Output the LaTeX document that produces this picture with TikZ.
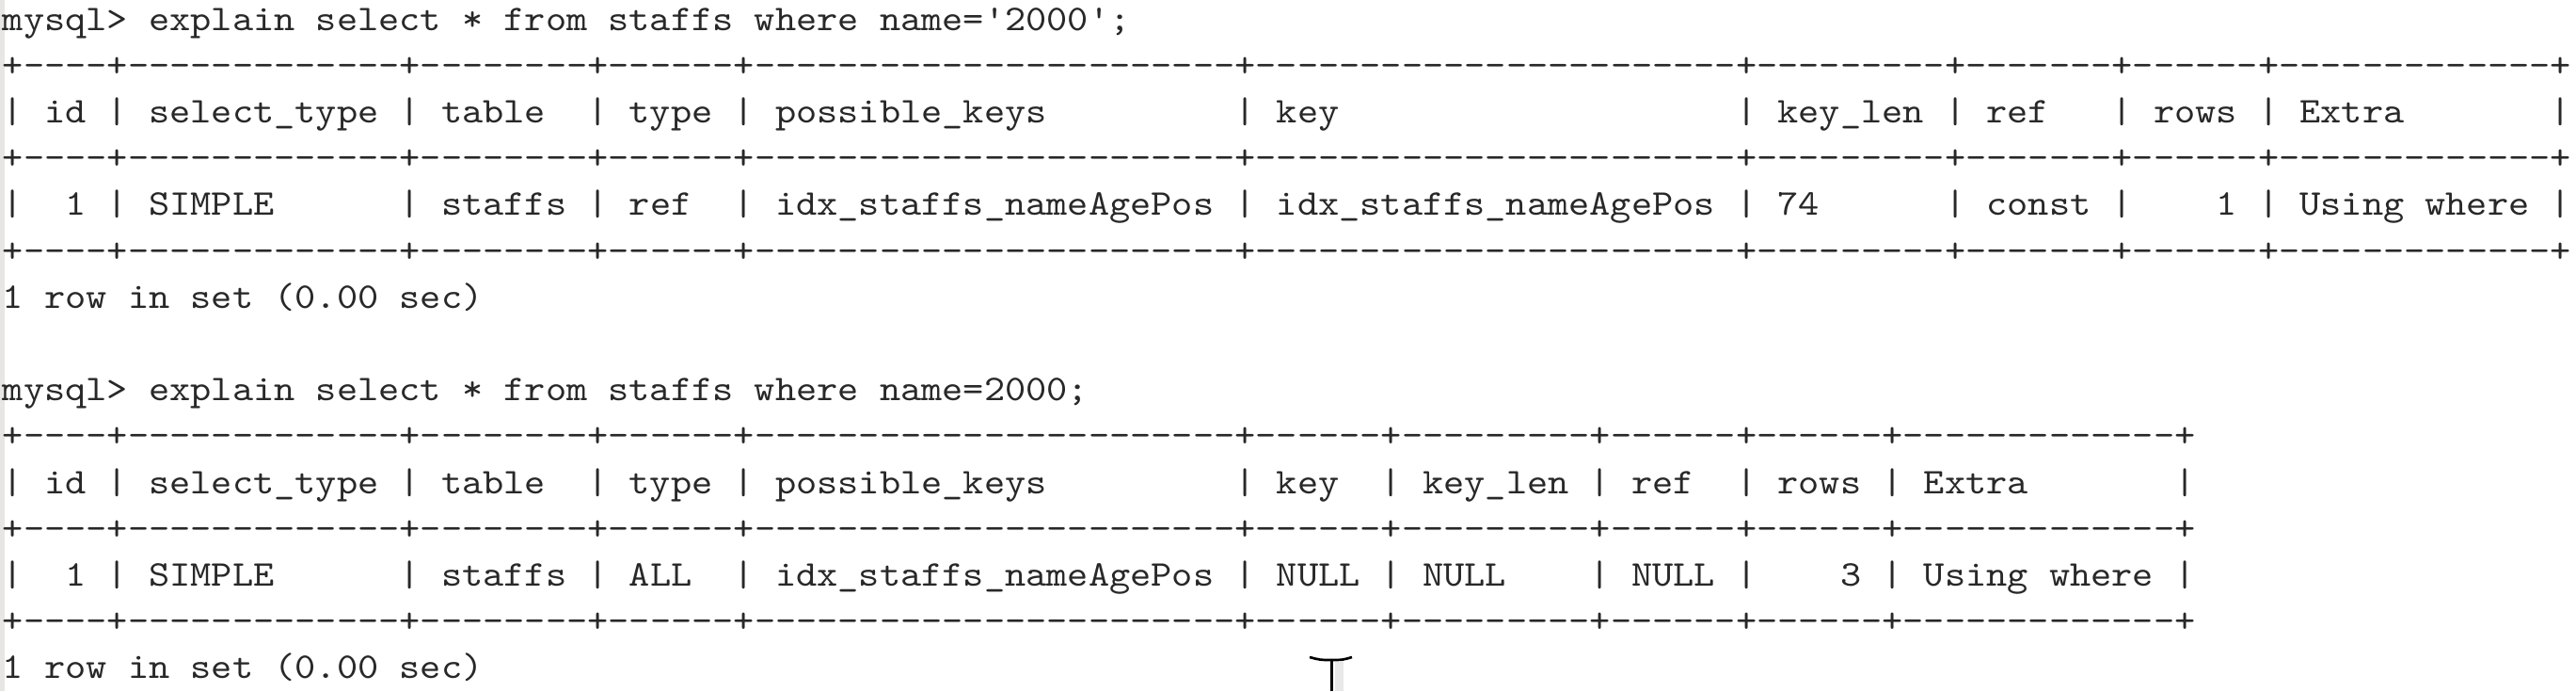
\documentclass[tikz,border=0pt]{standalone}
\usepackage{fontspec}
\setmonofont{lmmono10-regular.otf}[FakeStretch=1.1]
\usetikzlibrary{positioning}
\definecolor{termtext}{RGB}{40,40,40}
\definecolor{winedge}{RGB}{232,230,227}
% run of blanks, as wide as n characters
\newcommand\sk[1]{\hskip#1\fontcharwd\font`x\relax}
% table border, one group of dashes per column
\newcommand\border[1]{+\foreach \dw in {#1}{\foreach \dn in {1,...,\dw}{-}+}}
\tikzset {
  % one line of the terminal
  term line/.style = {
    inner sep = 0,
    anchor = base west,
    font = \fontsize{11.53pt}{13pt}\ttfamily,
    text = termtext
  },
  % line set under another line
  next line/.style = {
    below = of #1.base west,
    anchor = base west
  },
  node distance = 14.76pt
}

\begin{document}
\begin{tikzpicture}
  \useasboundingbox (0,0) rectangle (821.4pt,-220.2pt);
  \fill[winedge] (0,0) rectangle (1.5pt,-220.2pt);

  % name compared with a string
  \node[term line] (query1) at (0.69pt,-9.6pt) {mysql> explain select * from staffs where name='2000';};
  \node[term line, next line=query1] (top1) {\border{4,13,8,6,23,23,9,7,6,13}};
  \node[term line, next line=top1] (head1) {| id | select\_type | table\sk{2}| type | possible\_keys\sk{9}| key\sk{19}| key\_len | ref\sk{3}| rows | Extra\sk{7}|};
  \node[term line, next line=head1] (mid1) {\border{4,13,8,6,23,23,9,7,6,13}};
  \node[term line, next line=mid1] (row1) {|\sk{2}1 | SIMPLE\sk{6}| staffs | ref\sk{2}| idx\_staffs\_nameAgePos | idx\_staffs\_nameAgePos | 74\sk{6}| const |\sk{4}1 | Using where |};
  \node[term line, next line=row1] (bottom1) {\border{4,13,8,6,23,23,9,7,6,13}};
  \node[term line, next line=bottom1] (result1) {1 row in set (0.00 sec)};

  % name compared with a number
  \node[term line, below=29.52pt of result1.base west, anchor=base west] (query2) {mysql> explain select * from staffs where name=2000;};
  \node[term line, next line=query2] (top2) {\border{4,13,8,6,23,6,9,6,6,13}};
  \node[term line, next line=top2] (head2) {| id | select\_type | table\sk{2}| type | possible\_keys\sk{9}| key\sk{2}| key\_len | ref\sk{2}| rows | Extra\sk{7}|};
  \node[term line, next line=head2] (mid2) {\border{4,13,8,6,23,6,9,6,6,13}};
  \node[term line, next line=mid2] (row2) {|\sk{2}1 | SIMPLE\sk{6}| staffs | ALL\sk{2}| idx\_staffs\_nameAgePos | NULL | NULL\sk{4}| NULL |\sk{4}3 | Using where |};
  \node[term line, next line=row2] (bottom2) {\border{4,13,8,6,23,6,9,6,6,13}};
  \node[term line, next line=bottom2] (result2) {1 row in set (0.00 sec)};

  % text cursor
  \fill[gray!18] (425.6pt,-211pt) rectangle (428.4pt,-220.2pt);
  \draw[black, line width=0.9pt] (424.5pt,-210.3pt) -- (424.5pt,-220.2pt);
  \draw[black, line width=0.8pt] (417.6pt,-209.4pt) .. controls (421pt,-210.3pt) .. (424.5pt,-210.3pt)
    .. controls (428pt,-210.3pt) .. (431.1pt,-209.4pt);
\end{tikzpicture}
\end{document}
